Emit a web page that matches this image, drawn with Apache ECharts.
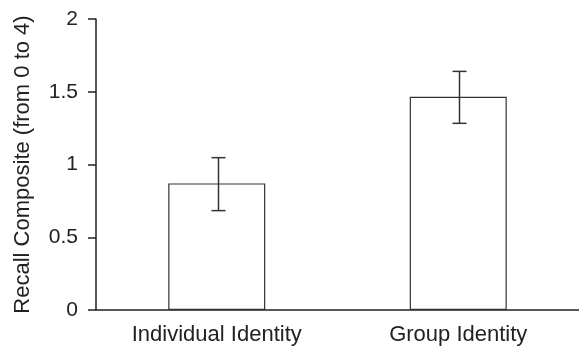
<!DOCTYPE html>
<html>
<head>
<meta charset="utf-8">
<script src="https://cdn.jsdelivr.net/npm/echarts@6/dist/echarts.min.js"></script>
<style>html,body{margin:0;padding:0;background:#fff;}#c{width:579px;height:352px;}</style>
</head>
<body>
<div id="c"></div>
<script>
var categories = ['Individual Identity', 'Group Identity'];
var means = [0.87, 1.465];
var errLow = [0.683, 1.283];
var errHigh = [1.047, 1.64];
var yTicks = [0, 0.5, 1, 1.5, 2];

var chart = echarts.init(document.getElementById('c'), null, {renderer: 'canvas'});
var font = 'Liberation Sans, Arial, sans-serif';
chart.setOption({
  animation: false,
  grid: {left: 96, right: 0, top: 19, bottom: 42, containLabel: false},
  xAxis: {
    type: 'category',
    data: categories,
    axisLine: {lineStyle: {color: '#222', width: 1.5}},
    axisTick: {show: false},
    axisLabel: {color: '#222', fontSize: 22, fontFamily: font, margin: 14}
  },
  yAxis: {
    type: 'value',
    min: 0, max: 2, interval: 0.5,
    name: 'Recall Composite (from 0 to 4)',
    nameLocation: 'middle',
    nameGap: 62,
    nameTextStyle: {color: '#222', fontSize: 22, fontFamily: font},
    axisLine: {show: true, lineStyle: {color: '#222', width: 1.5}},
    axisTick: {show: true, length: 8, lineStyle: {color: '#222', width: 1.5}},
    splitLine: {show: false},
    axisLabel: {color: '#222', fontSize: 21, fontFamily: font, margin: 18,
      formatter: function (v) { return yTicks.indexOf(v) >= 0 ? String(v) : ''; }}
  },
  series: [{
    type: 'bar',
    data: means,
    barWidth: 97,
    itemStyle: {color: '#fff', borderColor: '#333', borderWidth: 1.2}
  }, {
    type: 'custom',
    data: categories.map(function (c, i) { return [i, errLow[i], errHigh[i]]; }),
    renderItem: function (params, api) {
      var lo = api.coord([api.value(0), api.value(1)]);
      var hi = api.coord([api.value(0), api.value(2)]);
      var x = Math.round(lo[0]) + 1.5;
      var hw = 7;
      var st = {stroke: '#333', lineWidth: 1.5};
      return {type: 'group', children: [
        {type: 'line', shape: {x1: x, y1: hi[1], x2: x, y2: lo[1]}, style: st},
        {type: 'line', shape: {x1: x - hw, y1: hi[1], x2: x + hw, y2: hi[1]}, style: st},
        {type: 'line', shape: {x1: x - hw, y1: lo[1], x2: x + hw, y2: lo[1]}, style: st}
      ]};
    },
    z: 10
  }]
});
</script>
</body>
</html>
